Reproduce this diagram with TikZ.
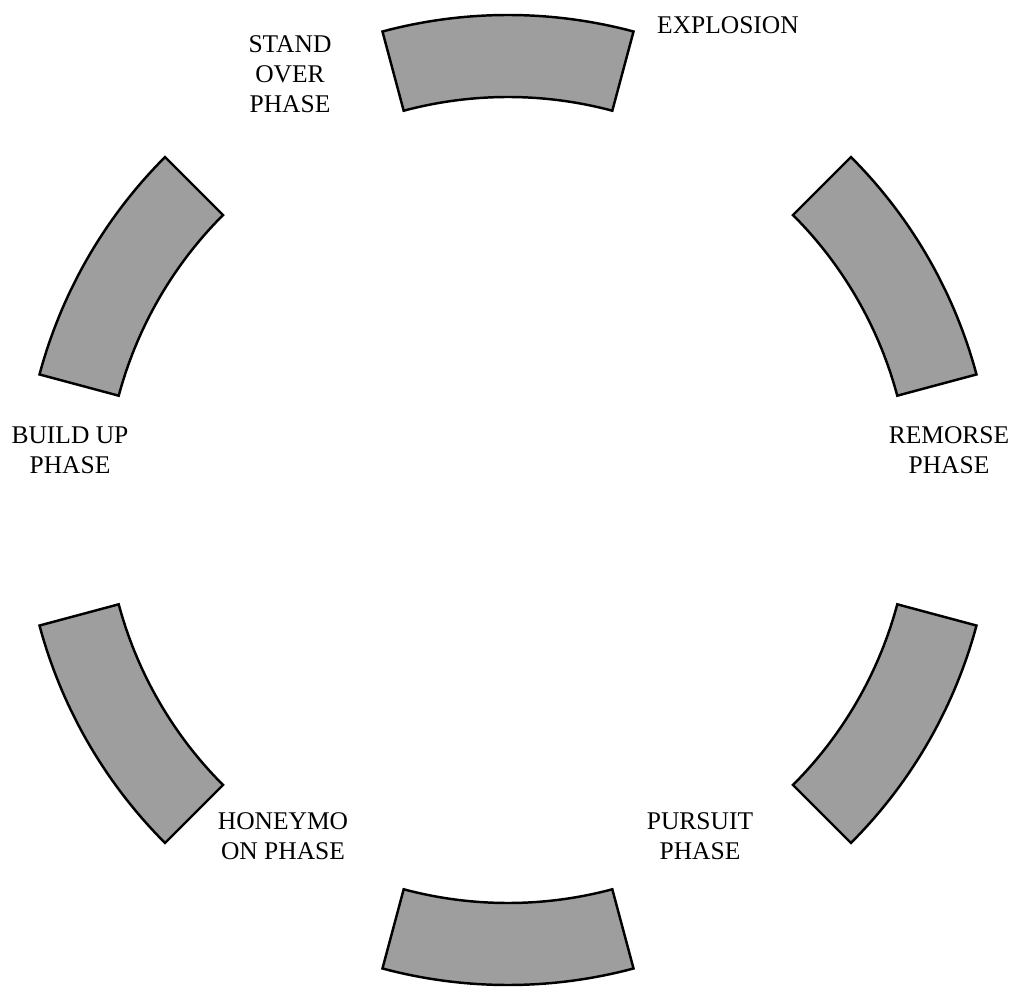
\documentclass[tikz,border=0pt]{standalone}
\usepackage{fontspec}
\setmainfont{Liberation Serif}
\usepackage{tikz}
\usetikzlibrary{positioning,calc}
\usepackage{xcolor}

\begin{document}
\begin{tikzpicture}[
  seg/.style={draw, line width=1.4pt, fill=black!38, line join=miter},
  lbl/.style={align=center, font=\fontsize{14.5}{17}\selectfont, inner sep=0pt},
]
\useasboundingbox (-10.16,-9.8) rectangle (10.16,10.0);

% ─── Ring segments (inner r = 8.06, outer r = 9.7) ───
\draw[seg] (75:8.06) arc[start angle=75, end angle=105, radius=8.06]
  -- (105:9.7) arc[start angle=105, end angle=75, radius=9.7] -- cycle;
\draw[seg] (15:8.06) arc[start angle=15, end angle=45, radius=8.06]
  -- (45:9.7) arc[start angle=45, end angle=15, radius=9.7] -- cycle;
\draw[seg] (-45:8.06) arc[start angle=-45, end angle=-15, radius=8.06]
  -- (-15:9.7) arc[start angle=-15, end angle=-45, radius=9.7] -- cycle;
\draw[seg] (-105:8.06) arc[start angle=-105, end angle=-75, radius=8.06]
  -- (-75:9.7) arc[start angle=-75, end angle=-105, radius=9.7] -- cycle;
\draw[seg] (195:8.06) arc[start angle=195, end angle=225, radius=8.06]
  -- (225:9.7) arc[start angle=225, end angle=195, radius=9.7] -- cycle;
\draw[seg] (135:8.06) arc[start angle=135, end angle=165, radius=8.06]
  -- (165:9.7) arc[start angle=165, end angle=135, radius=9.7] -- cycle;

% ─── Phase labels ───
\node[lbl] (standover) at (-4.36, 8.52) {STAND\\OVER\\PHASE};
\node[lbl] (explosion) at (4.4, 9.5) {EXPLOSION};
\node[lbl] (remorse) at (8.82, 1.0) {REMORSE\\PHASE};
\node[lbl] (pursuit) at (3.84, -6.72) {PURSUIT\\PHASE};
\node[lbl] (honeymoon) at (-4.5, -6.72) {HONEYMO\\ON PHASE};
\node[lbl] (buildup) at (-8.76, 1.0) {BUILD UP\\PHASE};

\end{tikzpicture}
\end{document}
